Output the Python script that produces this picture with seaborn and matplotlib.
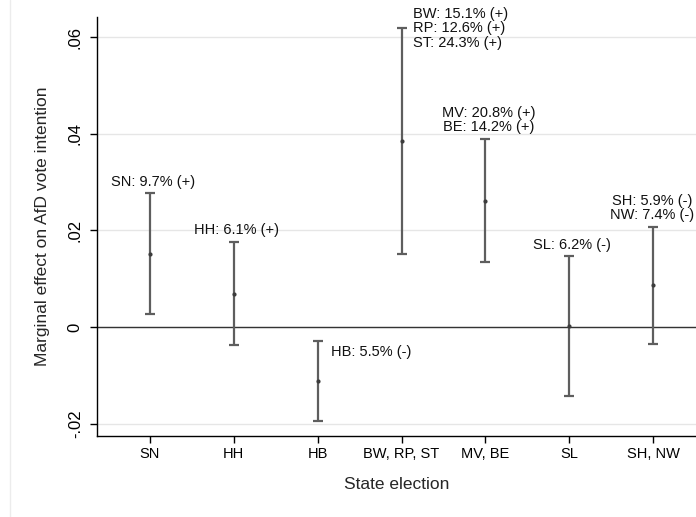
import numpy as np
import pandas as pd
import matplotlib
matplotlib.use("Agg")
import matplotlib.pyplot as plt
import seaborn as sns
from matplotlib.lines import Line2D

# marginal effects by state election, with 95% CI
elections = ["SN", "HH", "HB", "BW, RP, ST", "MV, BE", "SL", "SH, NW"]
effect = [0.0152, 0.0069, -0.0111, 0.0384, 0.0261, 0.0003, 0.0087]
ci_low = [0.0027, -0.0037, -0.0194, 0.0152, 0.0134, -0.0143, -0.0035]
ci_high = [0.0277, 0.0177, -0.0028, 0.0618, 0.0390, 0.0147, 0.0208]
vote_share = ["SN: 9.7% (+)", "HH: 6.1% (+)", "HB: 5.5% (-)",
              "BW: 15.1% (+)\nRP: 12.6% (+)\nST: 24.3% (+)",
              "MV: 20.8% (+)\nBE: 14.2% (+)", "SL: 6.2% (-)",
              "SH: 5.9% (-)\nNW: 7.4% (-)"]
ytick_vals = [-0.02, 0, 0.02, 0.04, 0.06]
ytick_text = ["-.02", "0", ".02", ".04", ".06"]

df = pd.DataFrame({"election": elections, "effect": effect,
                   "lo": ci_low, "hi": ci_high, "label": vote_share})
df["pos"] = np.arange(len(df))

sns.set_style("white")
plt.rcParams["font.family"] = ["Liberation Sans", "DejaVu Sans"]

fig = plt.figure(figsize=(6.96, 5.17), dpi=100)
ax = fig.add_axes([0.139, 0.1576, 0.861, 0.8101])

# light grid + zero line
for v in ytick_vals:
    ax.axhline(v, color="#e6e6e6", lw=1.0, zorder=0)
ax.axhline(0, color="#333333", lw=1.0, zorder=1)

ax.errorbar(df["pos"], df["effect"],
            yerr=[df["effect"] - df["lo"], df["hi"] - df["effect"]],
            fmt="none", ecolor="#5e5e5e", elinewidth=1.6,
            capsize=3.3, capthick=1.6, zorder=2)
sns.scatterplot(data=df, x="pos", y="effect", ax=ax, color="#3c3c3c",
                s=9, linewidth=0, zorder=3, legend=False)

# where each vote share note sits relative to its CI (offsets in points)
placement = ["above", "above", "right_top", "right_mid", "above", "above", "above_edge"]
offsets = {"above": (2, 3), "above_edge": (-1, 3),
           "right_mid": (8.4, 0), "right_top": (9.4, -8.4)}
for _, row in df.iterrows():
    how = placement[row["pos"]]
    centred = how.startswith("above")
    ax.annotate(row["label"], (row["pos"], row["hi"]), xytext=offsets[how],
                textcoords="offset points",
                ha="center" if centred else "left",
                va="bottom" if centred else "center",
                fontsize=10.5, linespacing=1.02, color="#111111")

ax.set_xlim(-0.635, 6.51)
ax.set_ylim(-0.0224, 0.0642)
ax.set_xticks(df["pos"])
ax.set_xticklabels(elections, fontsize=10.5)
ax.set_yticks(ytick_vals)
ax.set_yticklabels(ytick_text, fontsize=12, rotation=90, va="center")
ax.tick_params(axis="x", length=5, width=1, pad=3, colors="black", bottom=True)
ax.tick_params(axis="y", length=5, width=1, pad=5, colors="black", left=True)
ax.set_xlabel("State election", fontsize=12.5, labelpad=12)
ax.set_ylabel("Marginal effect on AfD vote intention", fontsize=12.5, labelpad=13)

sns.despine(ax=ax, top=True, right=True)
for s in ["left", "bottom"]:
    ax.spines[s].set_color("black")
    ax.spines[s].set_linewidth(1.0)

# faint outer border line of the graph region
fig.add_artist(Line2D([0.0144, 0.0144], [0, 1], transform=fig.transFigure,
                      color="#ececec", lw=1.0))

fig.savefig("out.png", dpi=100)
